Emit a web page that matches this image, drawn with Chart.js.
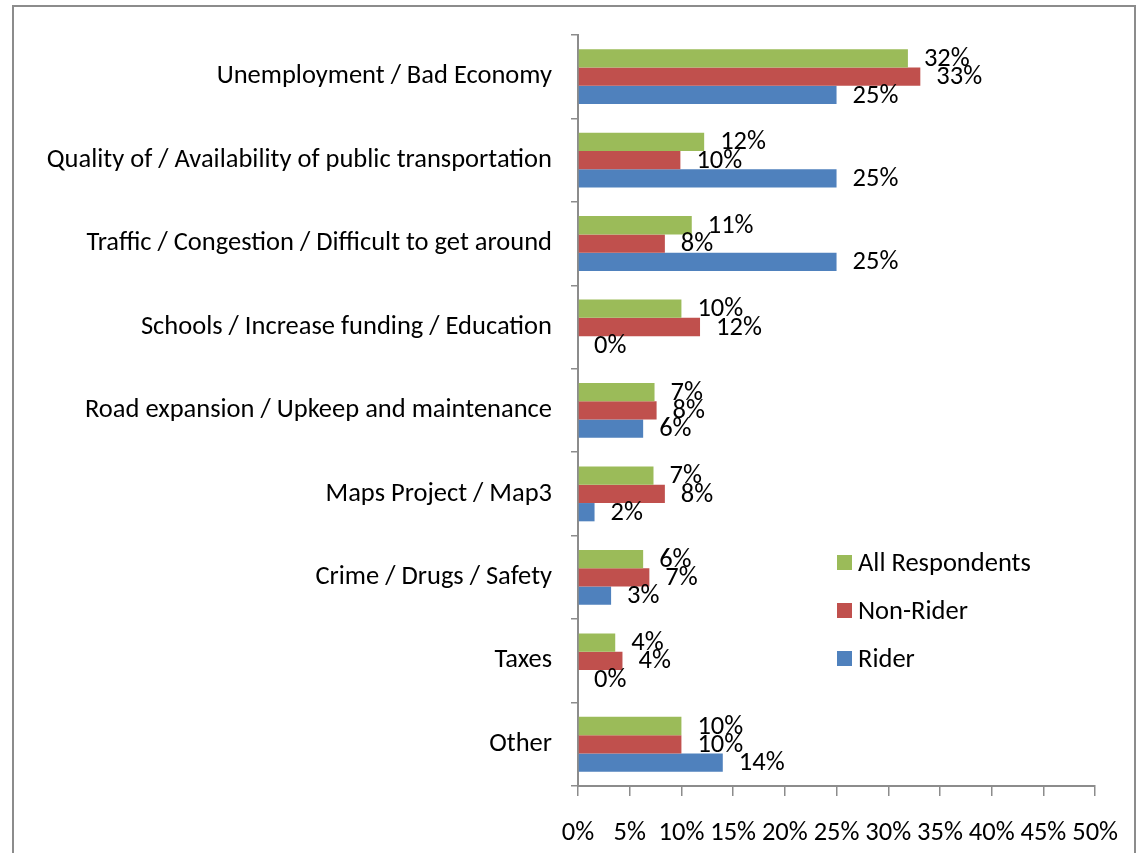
<!DOCTYPE html>
<html>
<head>
<meta charset="utf-8">
<script src="https://cdn.jsdelivr.net/npm/chart.js@4.4.1/dist/chart.umd.min.js"></script>
<style>
    html, body { margin: 0; padding: 0; background: #fff; overflow: hidden; }
    #wrap { position: relative; width: 1139px; height: 853px; }
    #frame {
        position: absolute; left: 12px; top: 5px; width: 1124px; height: 900px;
        border: 2px solid #8c8c8c; box-sizing: border-box;
    }
    #chart { position: absolute; left: 0; top: 0; }
    #legend { position: absolute; left: 837px; top: 546px; font-family: Carlito, Calibri, "Open Sans", sans-serif; font-size: 26.5px; line-height: 32px; color: #000; }
    .item { height: 48px; display: flex; align-items: flex-start; }
    .box { width: 15px; height: 15px; margin-top: 9px; margin-right: 6px; }
</style>
</head>
<body>
<div id="wrap">
    <div id="frame"></div>
    <canvas id="chart" width="1139" height="853"></canvas>
    <div id="legend"></div>
</div>
<script>
// Kategoriler (yukarıdan aşağıya)
const categories = [
    'Unemployment / Bad Economy',
    'Quality of / Availability of public transportation',
    'Traffic / Congestion / Difficult to get around',
    'Schools / Increase funding / Education',
    'Road expansion / Upkeep and maintenance',
    'Maps Project / Map3',
    'Crime / Drugs / Safety',
    'Taxes',
    'Other'
];

// Yüzde değerleri
const allRespondents = [31.9, 12.2, 11.0, 10.0, 7.4, 7.3, 6.3, 3.6, 10.0];
const nonRider = [33.1, 9.9, 8.4, 11.8, 7.6, 8.4, 6.9, 4.3, 10.0];
const rider = [25.0, 25.0, 25.0, 0, 6.3, 1.6, 3.2, 0, 14.0];

const seriesNames = ['All Respondents', 'Non-Rider', 'Rider'];
const seriesColors = ['#9BBB59', '#C0504D', '#4F81BD'];

const FONT = 'Carlito, Calibri, "Open Sans", sans-serif';
const FONT_SIZE = 26.5;

// Çubukların sağına yüzde etiketi yaz
const valueLabels = {
    id: 'valueLabels',
    afterDatasetsDraw(chart) {
        const ctx = chart.ctx;
        ctx.save();
        ctx.font = FONT_SIZE + 'px ' + FONT;
        ctx.fillStyle = '#000';
        ctx.textAlign = 'left';
        ctx.textBaseline = 'middle';
        chart.data.datasets.forEach((ds, i) => {
            chart.getDatasetMeta(i).data.forEach((bar, j) => {
                ctx.fillText(Math.round(ds.data[j]) + '%', bar.x + 16, bar.y + 1);
            });
        });
        ctx.restore();
    }
};

const axisColor = '#8c8c8c';

new Chart(document.getElementById('chart').getContext('2d'), {
    type: 'bar',
    data: {
        labels: categories,
        datasets: [allRespondents, nonRider, rider].map((d, i) => ({
            label: seriesNames[i],
            data: d,
            backgroundColor: seriesColors[i],
            borderWidth: 0,
            barPercentage: 1,
            categoryPercentage: 0.657
        }))
    },
    options: {
        indexAxis: 'y',
        responsive: false,
        animation: false,
        layout: { padding: { top: 33, right: 39, left: 0, bottom: 0 } },
        scales: {
            y: {
                afterFit: s => { s.width = 578; },
                grid: { drawOnChartArea: false, tickLength: 7, color: axisColor, lineWidth: 1.5 },
                border: { color: axisColor, width: 2 },
                ticks: { color: '#000', padding: 19, font: { family: FONT, size: FONT_SIZE } }
            },
            x: {
                min: 0,
                max: 50,
                afterFit: s => { s.height = 67; },
                grid: { drawOnChartArea: false, tickLength: 10, color: axisColor, lineWidth: 1.5 },
                border: { color: axisColor, width: 2 },
                ticks: {
                    stepSize: 5,
                    color: '#000',
                    padding: 21,
                    maxRotation: 0,
                    autoSkip: false,
                    font: { family: FONT, size: FONT_SIZE },
                    callback: v => v + '%'
                }
            }
        },
        plugins: {
            legend: { display: false },
            tooltip: { enabled: false }
        }
    },
    plugins: [valueLabels]
});

// Sağdaki açıklama kutusu
const legend = document.getElementById('legend');
seriesNames.forEach((name, i) => {
    const row = document.createElement('div');
    row.className = 'item';
    row.innerHTML = '<span class="box" style="background:' + seriesColors[i] + '"></span><span>' + name + '</span>';
    legend.appendChild(row);
});
</script>
</body>
</html>
